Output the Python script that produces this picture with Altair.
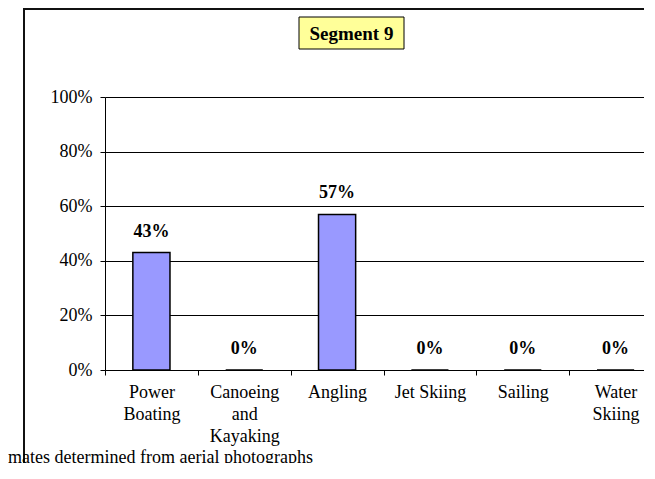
import altair as alt
import pandas as pd

# Data
activities = ["Power|Boating", "Canoeing|and|Kayaking", "Angling", "Jet Skiing", "Sailing", "Water|Skiing"]
shares = [0.43, 0.0, 0.57, 0.0, 0.0, 0.0]
y_ticks = [0, 0.2, 0.4, 0.6, 0.8, 1.0]
panel_title = "Segment 9"
footer_text = "mates determined from aerial photographs"

df = pd.DataFrame({"activity": activities, "share": shares})

FONT = "'Liberation Serif', 'Times New Roman', 'DejaVu Serif', serif"

x_enc = alt.X(
    "activity:N",
    sort=activities,
    scale=alt.Scale(range=[0, 557], paddingInner=0, paddingOuter=0),
    axis=alt.Axis(
        title=None,
        labelAngle=0,
        labelExpr="split(datum.label, '|')",
        labelLineHeight=22,
        labelBaseline="top",
        labelPadding=8,
        labelFont=FONT,
        labelFontSize=18,
        labelColor="black",
        tickBand="extent",
        tickColor="black",
        tickSize=5,
        domainColor="black",
        grid=False,
    ),
)
y_enc = alt.Y(
    "share:Q",
    scale=alt.Scale(domain=[0, 1], nice=False),
    axis=alt.Axis(
        title=None,
        values=y_ticks,
        format=".0%",
        labelFont=FONT,
        labelFontSize=18,
        labelColor="black",
        labelPadding=8,
        tickColor="black",
        tickSize=5,
        domainColor="black",
        grid=True,
        gridColor="black",
        gridWidth=1,
    ),
)

base = alt.Chart(df)

bars = base.mark_bar(
    width=alt.RelativeBandSize(0.4), color="#9999ff", stroke="black", strokeWidth=1.5
).encode(x=x_enc, y=y_enc)

labels = base.mark_text(
    baseline="bottom", dy=-12, font=FONT, fontSize=18, fontWeight="bold", color="black"
).encode(x=alt.X("activity:N", sort=activities), y="share:Q", text=alt.Text("share:Q", format=".0%"))

one = alt.Data(values=[{"t": panel_title, "f": footer_text}])

border_top = alt.Chart(one).mark_rule(color="#111111", strokeWidth=2).encode(
    x=alt.value(-82), x2=alt.value(600), y=alt.value(-88)
)
border_left = alt.Chart(one).mark_rule(color="#111111", strokeWidth=2).encode(
    x=alt.value(-81), y=alt.value(-89), y2=alt.value(400)
)

title_box = alt.Chart(one).mark_rect(
    fill="#ffff99", stroke="black", strokeWidth=1
).encode(x=alt.value(194), x2=alt.value(299), y=alt.value(-80), y2=alt.value(-48))

title_text = alt.Chart(one).mark_text(
    font=FONT, fontSize=19, fontWeight="bold", color="black", align="center", baseline="middle"
).encode(x=alt.value(246.5), y=alt.value(-63), text="t:N")

footer = alt.Chart(one).mark_text(
    font=FONT, fontSize=18, color="black", align="left", baseline="alphabetic"
).encode(x=alt.value(-97), y=alt.value(366), text="f:N")

chart = alt.layer(border_top, border_left, title_box, title_text, bars, labels, footer).properties(
    width=539,
    height=273,
    autosize=alt.AutoSizeParams(type="none"),
    padding={"left": 97, "top": 89, "right": 0, "bottom": 93},
    background="white",
).configure_view(strokeWidth=0)

chart.save("out.html", embed_options={"renderer": "svg", "actions": False})
